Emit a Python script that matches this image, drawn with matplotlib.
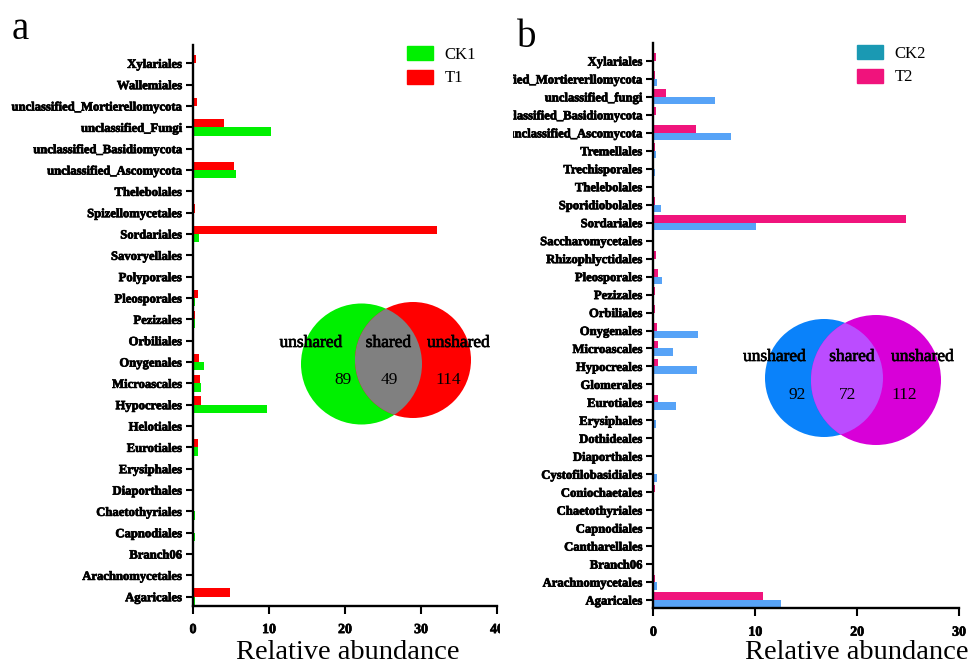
import matplotlib
matplotlib.use("Agg")
import matplotlib.pyplot as plt
import matplotlib.patheffects as pe
import numpy as np
from matplotlib.patches import Patch, Circle
from matplotlib.transforms import Bbox, TransformedBbox

plt.rcParams['font.family'] = ['Liberation Serif', 'DejaVu Serif']

# panel a: orders listed top to bottom
orders_a = ['Xylariales', 'Wallemiales', 'unclassified_Mortierellomycota', 'unclassified_Fungi',
            'unclassified_Basidiomycota', 'unclassified_Ascomycota', 'Thelebolales',
            'Spizellomycetales', 'Sordariales', 'Savoryellales', 'Polyporales', 'Pleosporales',
            'Pezizales', 'Orbiliales', 'Onygenales', 'Microascales', 'Hypocreales', 'Helotiales',
            'Eurotiales', 'Erysiphales', 'Diaporthales', 'Chaetothyriales', 'Capnodiales',
            'Branch06', 'Arachnomycetales', 'Agaricales']
t1 = [0.35, 0.1, 0.5, 4.1, 0.1, 5.35, 0.1, 0.2, 32.1, 0.05, 0.05, 0.6, 0.2,
      0.05, 0.8, 0.9, 1.1, 0.1, 0.6, 0.05, 0.1, 0.1, 0.1, 0.05, 0.15, 4.9]
ck1 = [0.05, 0.1, 0.1, 10.2, 0.1, 5.6, 0.1, 0.1, 0.8, 0.1, 0.1, 0.3, 0.2,
       0.1, 1.4, 1.1, 9.7, 0.1, 0.6, 0.05, 0.05, 0.2, 0.3, 0.05, 0.1, 0.3]
venn_a = [89, 49, 114]

# panel b
orders_b = ['Xylariales', 'unclassified_Mortiererllomycota', 'unclassified_fungi',
            'unclassified_Basidiomycota', 'unclassified_Ascomycota', 'Tremellales',
            'Trechisporales', 'Thelebolales', 'Sporidiobolales', 'Sordariales',
            'Saccharomycetales', 'Rhizophlyctidales', 'Pleosporales', 'Pezizales', 'Orbiliales',
            'Onygenales', 'Microascales', 'Hypocreales', 'Glomerales', 'Eurotiales',
            'Erysiphales', 'Dothideales', 'Diaporthales', 'Cystofilobasidiales',
            'Coniochaetales', 'Chaetothyriales', 'Capnodiales', 'Cantharellales', 'Branch06',
            'Arachnomycetales', 'Agaricales']
t2 = [0.25, 0.2, 1.2, 0.25, 4.2, 0.2, 0.1, 0.1, 0.2, 24.8, 0.1, 0.25, 0.45, 0.2, 0.2,
      0.4, 0.45, 0.45, 0.05, 0.5, 0.05, 0.05, 0.1, 0.1, 0.2, 0.05, 0.1, 0.05, 0.1, 0.2, 10.75]
ck2 = [0.0, 0.35, 6.0, 0.1, 7.65, 0.3, 0.2, 0.1, 0.7, 10.1, 0.1, 0.05, 0.85, 0.05, 0.05,
       4.4, 1.9, 4.3, 0.05, 2.25, 0.25, 0.1, 0.05, 0.35, 0.1, 0.05, 0.05, 0.1, 0.05, 0.4, 12.5]
venn_b = [92, 72, 112]

W, H = 975, 667
fig = plt.figure(figsize=(W / 100, H / 100), dpi=100)
heavy = [pe.withStroke(linewidth=0.5, foreground='black')]


def px_axes(x0, y0, x1, y1):
    return fig.add_axes([x0 / W, 1 - y1 / H, (x1 - x0) / W, (y1 - y0) / H])


def style_axes(ax, names, xmax, step, ylim):
    ax.set_xlim(0, xmax)
    ax.set_ylim(*ylim)
    ax.set_xticks(np.arange(0, xmax + 1, step))
    ax.set_yticks(np.arange(len(names))[::-1])
    ax.set_yticklabels(names)
    for s in ['top', 'right']:
        ax.spines[s].set_visible(False)
    for s in ['left', 'bottom']:
        ax.spines[s].set_linewidth(1.7)
    ax.tick_params(axis='y', direction='out', length=5, width=1.5, pad=3)
    ax.tick_params(axis='x', direction='out', length=5.5, width=1.5, pad=7)
    for lbl in ax.get_yticklabels():
        lbl.set_fontsize(9.1)
        lbl.set_fontweight('bold')
        lbl.set_path_effects(heavy)
    for lbl in ax.get_xticklabels():
        lbl.set_fontsize(10)
        lbl.set_fontweight('bold')
        lbl.set_path_effects(heavy)


def pair_bars(ax, top_vals, bot_vals, top_col, bot_col, h):
    pos = np.arange(len(top_vals))[::-1]
    ax.barh(pos + h / 2, top_vals, height=h, color=top_col, linewidth=0)
    ax.barh(pos - h / 2, bot_vals, height=h, color=bot_col, linewidth=0)


# --- panel a ---
ax_a = px_axes(193, 45, 497, 605.7)
pair_bars(ax_a, t1, ck1, '#ff0000', '#00f000', 0.39)
style_axes(ax_a, orders_a, 40, 10, (-0.42, 25.86))
ax_a.set_xlabel('Relative abundance', fontsize=20.5, va='baseline')
ax_a.xaxis.set_label_coords(0.508, -0.0945)
ax_a.legend(handles=[Patch(color='#00f000'), Patch(color='#ff0000')], labels=['CK1', 'T1'],
            loc='upper left', bbox_to_anchor=(407 / W, 1 - 46 / H), bbox_transform=fig.transFigure,
            frameon=False, fontsize=12, borderpad=0, borderaxespad=0, handlelength=1.55,
            handleheight=0.9, handletextpad=0.72, labelspacing=0.42)

# --- panel b ---
ax_b = px_axes(653.4, 43, 959, 608.3)
pair_bars(ax_b, t2, ck2, '#f0147c', '#57a3f7', 0.42)
style_axes(ax_b, orders_b, 30, 10, (-0.46, 31.0))
ax_b.set_xlabel('Relative abundance', fontsize=20.5, va='baseline')
ax_b.xaxis.set_label_coords(0.666, -0.0895)
ax_b.legend(handles=[Patch(color='#1a99b3'), Patch(color='#f0137c')], labels=['CK2', 'T2'],
            loc='upper left', bbox_to_anchor=(857 / W, 1 - 45 / H), bbox_transform=fig.transFigure,
            frameon=False, fontsize=12, borderpad=0, borderaxespad=0, handlelength=1.55,
            handleheight=0.9, handletextpad=0.72, labelspacing=0.42)

# panels are cut at their shared border
clip_a = TransformedBbox(Bbox([[0, 0], [500 / W, 1]]), fig.transFigure)
clip_b = TransformedBbox(Bbox([[513 / W, 0], [1, 1]]), fig.transFigure)
for lbl in ax_a.get_xticklabels():
    lbl.set_clip_box(clip_a)
    lbl.set_clip_on(True)
for lbl in ax_b.get_yticklabels():
    lbl.set_clip_box(clip_b)
    lbl.set_clip_on(True)

fig.text(12 / W, 1 - 39 / H, 'a', fontsize=28, va='baseline')
fig.text(517 / W, 1 - 47 / H, 'b', fontsize=28, va='baseline')

# --- venn diagrams in pixel space ---
ov = fig.add_axes([0, 0, 1, 1])
ov.set_xlim(0, W)
ov.set_ylim(H, 0)
ov.axis('off')


def venn(c1, r1, col1, c2, r2, col2, col_mid, counts, lab_x, num_x, lab_y, num_y):
    a = Circle(c1, r1, color=col1, lw=0)
    b = Circle(c2, r2, color=col2, lw=0)
    ov.add_patch(a)
    ov.add_patch(b)
    mid = Circle(c1, r1, color=col_mid, lw=0)
    ov.add_patch(mid)
    mid.set_clip_path(b)
    for x, t in zip(lab_x, ['unshared', 'shared', 'unshared']):
        ov.text(x, lab_y, t, fontsize=12.5, ha='center', va='center', path_effects=heavy)
    for x, n in zip(num_x, counts):
        ov.text(x, num_y, str(n), fontsize=12.5, ha='center', va='center')


venn((361.5, 364), 60.5, '#00f000', (413, 360), 58, '#ff0000', '#808080', venn_a,
     [311, 388.5, 458.5], [343, 389, 448.5], 343, 380)
venn((824, 378), 59, '#0a82fa', (876, 380), 65, '#d800d8', '#bb4cff', venn_b,
     [774.5, 852, 922.5], [797.5, 848, 904.5], 357, 395)

fig.savefig('out.png', dpi=100)
